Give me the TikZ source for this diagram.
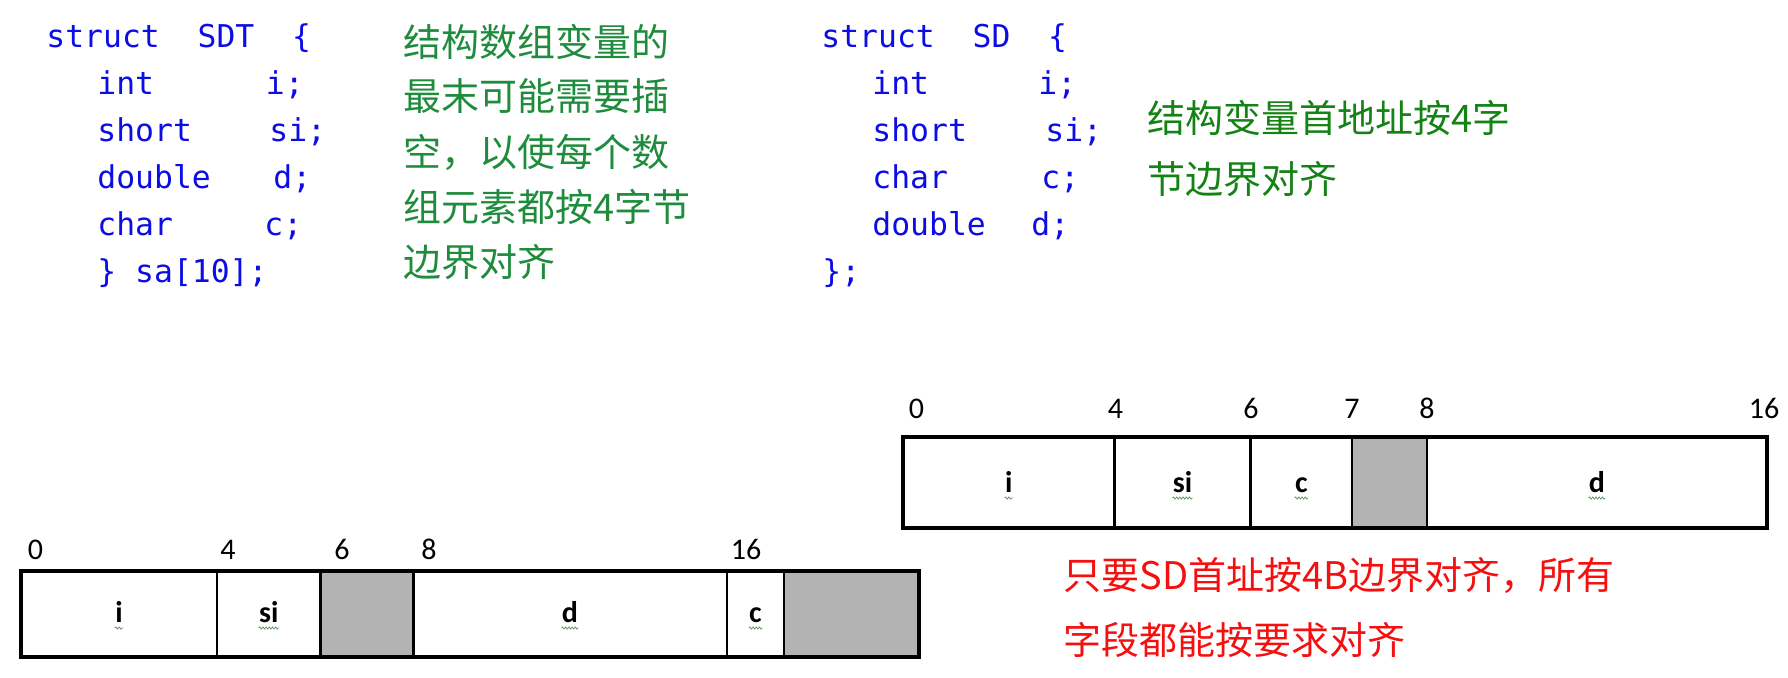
\documentclass[tikz,border=0pt]{standalone}
\usepackage{fontspec}
\setmainfont{Carlito}
\setmonofont{DejaVu Sans Mono}
\newfontfamily\cjk{Noto Sans CJK SC}
\usetikzlibrary{decorations.pathmorphing}

\definecolor{codeblue}{RGB}{12,12,228}
\definecolor{padgreen}{RGB}{30,140,60}
\definecolor{sdgreen}{RGB}{20,130,20}
\definecolor{alignred}{RGB}{245,15,15}
\definecolor{padgray}{RGB}{179,179,179}
\definecolor{spellgreen}{RGB}{95,145,95}

\begin{document}
\begin{tikzpicture}[x=0.5pt, y=-0.5pt,
	codetext/.style={anchor=base west, inner sep=0pt, text=codeblue, font=\fontsize{15.7}{18}\ttfamily},
	notetext/.style={anchor=west, inner sep=0pt, font=\fontsize{19}{22}\cjk},
	offsetlabel/.style={anchor=base, inner sep=0pt, font=\fontsize{15}{18}\selectfont},
	fieldlabel/.style={anchor=base, inner sep=0pt, font=\fontsize{15}{18}\bfseries},
	squiggle/.style={spellgreen, line width=0.35pt, decorate, decoration={snake, segment length=1.6pt, amplitude=0.55pt}},
	padcell/.style={fill=padgray},
	celldiv/.style={line width=1.4pt},
	frameline/.style={line width=1.8pt}]

	\useasboundingbox (0, 0) rectangle (1788, 677);

	\node[codetext] (sdtHead) at (46, 47.5) {struct~~SDT~~\{};
	\node[codetext] (sdtInt) at (97, 94.5) {int};
	\node[codetext] (sdtI) at (265.5, 94.5) {i;};
	\node[codetext] (sdtShort) at (97, 141.5) {short};
	\node[codetext] (sdtSi) at (269, 141.5) {si;};
	\node[codetext] (sdtDouble) at (97, 188.5) {double};
	\node[codetext] (sdtD) at (273, 188.5) {d;};
	\node[codetext] (sdtChar) at (97, 235.5) {char};
	\node[codetext] (sdtC) at (264, 235.5) {c;};
	\node[codetext] (sdtEnd) at (97, 282.5) {\}~sa[10];};

	\node[codetext] (sdHead) at (821, 47.5) {struct~~SD~~\{};
	\node[codetext] (sdInt) at (872, 94.5) {int};
	\node[codetext] (sdI) at (1038, 94.5) {i;};
	\node[codetext] (sdShort) at (872, 141.5) {short};
	\node[codetext] (sdSi) at (1045, 141.5) {si;};
	\node[codetext] (sdChar) at (872, 188.5) {char};
	\node[codetext] (sdC) at (1041, 188.5) {c;};
	\node[codetext] (sdDouble) at (872, 235.5) {double};
	\node[codetext] (sdD) at (1031, 235.5) {d;};
	\node[codetext] (sdEnd) at (822, 282.5) {\};};

	\node[notetext, text=padgreen] (padNoteA) at (403, 41.5) {结构数组变量的};
	\node[notetext, text=padgreen] (padNoteB) at (403, 96.5) {最末可能需要插};
	\node[notetext, text=padgreen] (padNoteC) at (403, 152) {空，以使每个数};
	\node[notetext, text=padgreen] (padNoteD) at (403, 207) {组元素都按4字节};
	\node[notetext, text=padgreen] (padNoteE) at (403, 262.5) {边界对齐};

	\node[notetext, text=sdgreen] (sdNoteA) at (1147, 117.5) {结构变量首地址按4字};
	\node[notetext, text=sdgreen] (sdNoteB) at (1147, 179.5) {节边界对齐};

	\node[notetext, text=alignred] (alignNoteA) at (1063, 575) {只要SD首址按4B边界对齐，所有};
	\node[notetext, text=alignred] (alignNoteB) at (1063, 640) {字段都能按要求对齐};

	\fill[padcell] (1352, 436.7) rectangle (1427, 528);
	\draw[celldiv] (1114.5, 436.7) -- (1114.5, 528);
	\draw[celldiv] (1250.6, 436.7) -- (1250.6, 528);
	\draw[celldiv] (1352, 436.7) -- (1352, 528);
	\draw[celldiv] (1427, 436.7) -- (1427, 528);
	\draw[frameline] (903, 436.7) rectangle (1767, 528);

	\node[offsetlabel] (sdOff0) at (916.5, 418.5) {0};
	\node[offsetlabel] (sdOff4) at (1115.5, 418.5) {4};
	\node[offsetlabel] (sdOff6) at (1251, 418.5) {6};
	\node[offsetlabel] (sdOff7) at (1352, 418.5) {7};
	\node[offsetlabel] (sdOff8) at (1427, 418.5) {8};
	\node[offsetlabel] (sdOff16) at (1764, 418.5) {16};

	\node[fieldlabel] (sdFieldI) at (1008.7, 492) {i};
	\node[fieldlabel] (sdFieldSi) at (1182.5, 492) {si};
	\node[fieldlabel] (sdFieldC) at (1301.3, 492) {c};
	\node[fieldlabel] (sdFieldD) at (1597, 492) {d};

	\draw[squiggle] ([yshift=-3pt]sdFieldI.base west) -- ([yshift=-3pt]sdFieldI.base east);
	\draw[squiggle] ([yshift=-3pt]sdFieldSi.base west) -- ([yshift=-3pt]sdFieldSi.base east);
	\draw[squiggle] ([yshift=-3pt]sdFieldC.base west) -- ([yshift=-3pt]sdFieldC.base east);
	\draw[squiggle] ([yshift=-3pt]sdFieldD.base west) -- ([yshift=-3pt]sdFieldD.base east);

	\fill[padcell] (320.7, 570.7) rectangle (413.7, 656.7);
	\fill[padcell] (784, 570.7) rectangle (919, 656.7);
	\draw[celldiv] (217, 570.7) -- (217, 656.7);
	\draw[celldiv] (320.7, 570.7) -- (320.7, 656.7);
	\draw[celldiv] (413.7, 570.7) -- (413.7, 656.7);
	\draw[celldiv] (727, 570.7) -- (727, 656.7);
	\draw[celldiv] (784, 570.7) -- (784, 656.7);
	\draw[frameline] (21, 570.7) rectangle (919, 656.7);

	\node[offsetlabel] (sdtOff0) at (35.5, 559) {0};
	\node[offsetlabel] (sdtOff4) at (228, 559) {4};
	\node[offsetlabel] (sdtOff6) at (342, 559) {6};
	\node[offsetlabel] (sdtOff8) at (429, 559) {8};
	\node[offsetlabel] (sdtOff16) at (746, 559) {16};

	\node[fieldlabel] (sdtFieldI) at (119, 622) {i};
	\node[fieldlabel] (sdtFieldSi) at (268.8, 622) {si};
	\node[fieldlabel] (sdtFieldD) at (570, 622) {d};
	\node[fieldlabel] (sdtFieldC) at (755.5, 622) {c};

	\draw[squiggle] ([yshift=-3pt]sdtFieldI.base west) -- ([yshift=-3pt]sdtFieldI.base east);
	\draw[squiggle] ([yshift=-3pt]sdtFieldSi.base west) -- ([yshift=-3pt]sdtFieldSi.base east);
	\draw[squiggle] ([yshift=-3pt]sdtFieldD.base west) -- ([yshift=-3pt]sdtFieldD.base east);
	\draw[squiggle] ([yshift=-3pt]sdtFieldC.base west) -- ([yshift=-3pt]sdtFieldC.base east);

\end{tikzpicture}
\end{document}
